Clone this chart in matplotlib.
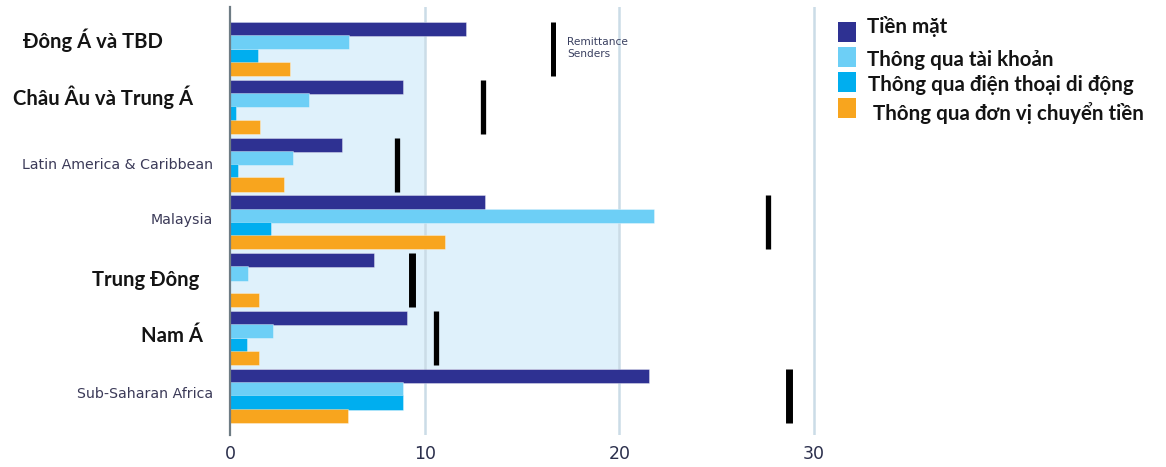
import matplotlib
matplotlib.use("Agg")
import matplotlib.pyplot as plt
from matplotlib.patches import Rectangle
from matplotlib.transforms import blended_transform_factory

# ---- data ---------------------------------------------------------------
regions = ["Đông Á và TBD", "Châu Âu và Trung Á", "Latin America & Caribbean",
           "Malaysia", "Trung Đông", "Nam Á", "Sub-Saharan Africa"]
series_names = ["Tiền mặt", "Thông qua tài khoản",
                "Thông qua điện thoại di động", "Thông qua đơn vị chuyển tiền"]
cash = [12.1, 8.9, 5.75, 13.1, 7.4, 9.1, 21.5]
account = [6.1, 4.05, 3.25, 21.8, 0.95, 2.2, 8.9]
mobile = [1.45, 0.3, 0.4, 2.1, 0.0, 0.85, 8.9]
transfer_operator = [3.1, 1.55, 2.75, 11.05, 1.5, 1.5, 6.05]
remittance_senders = [16.6, 13.0, 8.6, 27.65, 9.35, 10.6, 28.7]
x_ticks = [0, 10, 20, 30]

# ---- styling ------------------------------------------------------------
colors = ["#2e3192", "#6dcff6", "#00aeef", "#f8a51e"]
sender_widths = [3.6, 3.8, 3.8, 3.8, 5.0, 3.8, 5.0]
vn_font = ["Lato", "DejaVu Sans"]
en_font = ["DejaVu Sans"]

W, H = 1166, 467
fig = plt.figure(figsize=(W / 100, H / 100), dpi=100)
ax_l, ax_r, ax_t, ax_b = 230, 820, 7, 435
ax = fig.add_axes([ax_l / W, 1 - ax_b / H, (ax_r - ax_l) / W, (ax_b - ax_t) / H])

step = 0.23
bar_h = 0.245
series = [cash, account, mobile, transfer_operator]
for k, vals in enumerate(series):
    ys = [i + (k - 1.5) * step for i in range(len(regions))]
    ax.barh(ys, vals, height=bar_h, color=colors[k],
            edgecolor=(1, 1, 1, 0.35), linewidth=0.7, zorder=3)

# remittance-sender markers spanning each group
half = 1.5 * step + bar_h / 2
for i, v in enumerate(remittance_senders):
    ax.vlines(v, i - half, i + half, color="black",
              linewidth=sender_widths[i], zorder=4)

ax.text(17.3, -0.02, "Remittance\nSenders", fontsize=7.6,
        color="#3a4060", family=en_font, va="center", ha="left",
        linespacing=1.3, zorder=5)

# light background bands
top_band = -half
mid_band = 3 - 0.5 * step - bar_h / 2
bot_band = 6 - half
ax.add_patch(Rectangle((0, top_band), 10, mid_band - top_band,
                       facecolor="#dff1fb", edgecolor="none", zorder=0.5))
ax.add_patch(Rectangle((0, mid_band), 20, bot_band - mid_band,
                       facecolor="#dff1fb", edgecolor="none", zorder=0.5))

for t in x_ticks[1:]:
    ax.axvline(t, color="#cbdce7", linewidth=1.8, zorder=1)

ax.set_xlim(0, (ax_r - ax_l) / 19.47)
y_top = (ax_t - 49) / 57.8
y_bot = (ax_b - 49) / 57.8
ax.set_ylim(y_bot, y_top)

ax.set_xticks(x_ticks)
ax.set_xticklabels([str(t) for t in x_ticks], fontsize=12.5,
                   color="#2b2f4c", family=en_font)
ax.tick_params(axis="x", length=0, pad=7)
ax.set_yticks([])
for s in ["top", "right", "bottom"]:
    ax.spines[s].set_visible(False)
ax.spines["left"].set_color("#6e7c84")
ax.spines["left"].set_linewidth(1.6)
ax.spines["left"].set_zorder(5)

# category labels
trans = blended_transform_factory(fig.transFigure, ax.transData)
label_spec = [
    (93, "center", -0.16, True),
    (103, "center", -0.16, True),
    (213, "right", 0.0, False),
    (213, "right", -0.05, False),
    (146, "center", 0.0, True),
    (172, "center", -0.03, True),
    (213, "right", -0.03, False),
]
for i, (name, (px, ha, dy, vn)) in enumerate(zip(regions, label_spec)):
    if vn:
        ax.text(px / W, i + dy, name, transform=trans, ha=ha, va="center",
                fontsize=14.6, fontweight="bold", color="#141414",
                family=vn_font, clip_on=False)
    else:
        ax.text(px / W, i + dy, name, transform=trans, ha=ha, va="center",
                fontsize=10.2, color="#3b3a58", family=en_font, clip_on=False)

# legend
sq_top = [22, 47, 72, 98]
txt_x = [867, 867, 868, 873]
txt_base = [33, 66, 91, 120]
for k, name in enumerate(series_names):
    fig.patches.append(Rectangle((838 / W, 1 - (sq_top[k] + 20) / H),
                                 18 / W, 20 / H, transform=fig.transFigure,
                                 facecolor=colors[k], edgecolor="none"))
    fig.text(txt_x[k] / W, 1 - txt_base[k] / H, name, fontsize=14.8,
             fontweight="bold", color="#141414", family=vn_font,
             va="baseline", ha="left")

fig.savefig("out.png", dpi=100)
